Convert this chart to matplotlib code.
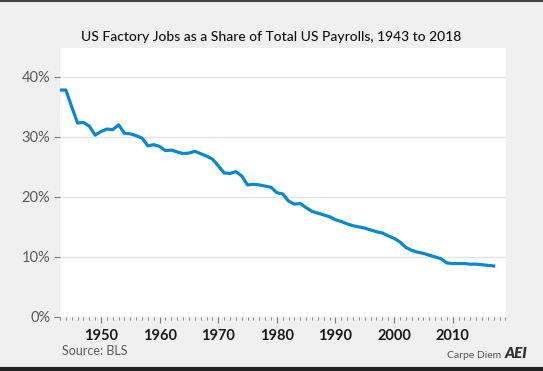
import matplotlib
matplotlib.use("Agg")
import matplotlib.pyplot as plt
import matplotlib.ticker as mticker
from matplotlib.lines import Line2D

YEARS = list(range(1943, 2018))
SHARE = [
    37.8, 37.8, 35.0, 32.3, 32.4, 31.8, 30.3, 30.9, 31.3, 31.2,
    32.0, 30.6, 30.5, 30.2, 29.8, 28.5, 28.7, 28.4, 27.7, 27.8,
    27.5, 27.2, 27.3, 27.6, 27.2, 26.8, 26.3, 25.2, 24.0, 23.9,
    24.2, 23.5, 22.0, 22.1, 22.0, 21.8, 21.6, 20.7, 20.5, 19.3,
    18.8, 18.9, 18.2, 17.6, 17.3, 17.0, 16.7, 16.2, 15.9, 15.5,
    15.2, 15.0, 14.8, 14.5, 14.2, 14.0, 13.5, 13.1, 12.5, 11.6,
    11.1, 10.8, 10.6, 10.3, 10.0, 9.7, 9.0, 8.9, 8.9, 8.9,
    8.8, 8.8, 8.7, 8.6, 8.5,
]
Y_TICKS = [0, 10, 20, 30, 40]
X_TICKS = [1950, 1960, 1970, 1980, 1990, 2000, 2010]

BG = "#f0f0f0"
LINE = "#0a88cc"
GRID = "#e4e4e4"
TICK_GREY = "#7a7a7a"
LABEL_GREY = "#5a5a5a"
INK = "#1a1a1a"

plt.rcParams["font.family"] = ["Lato", "DejaVu Sans"]

fig = plt.figure(figsize=(5.43, 3.71), dpi=100, facecolor=BG)
ax = fig.add_axes([60 / 543, 54 / 371, 446 / 543, 269 / 371])
ax.set_facecolor("white")

ax.plot(YEARS, SHARE, color=LINE, linewidth=2.3, solid_joinstyle="round", zorder=3)

ax.set_xlim(1943, 2019.1)
ax.set_ylim(0, 44.8)
ax.set_yticks(Y_TICKS)
ax.yaxis.set_major_formatter(mticker.FuncFormatter(lambda v, _: f"{int(v)}%"))
ax.set_xticks(X_TICKS)
ax.xaxis.set_minor_locator(mticker.MultipleLocator(1))
ax.grid(axis="y", color=GRID, linewidth=1, zorder=0)
ax.set_axisbelow(True)

for side in ["top", "right", "left", "bottom"]:
    ax.spines[side].set_visible(False)

ax.tick_params(axis="y", length=4, width=0.8, color=TICK_GREY, labelcolor=LABEL_GREY,
               labelsize=10.5, pad=3)
ax.tick_params(axis="x", which="major", direction="out", length=4, width=0.8,
               color=TICK_GREY, labelcolor=INK, labelsize=10.5, pad=5)
ax.tick_params(axis="x", which="minor", direction="out", length=2, width=0.6,
               color=TICK_GREY)
for lbl in ax.get_xticklabels():
    lbl.set_fontweight("bold")

fig.text(271 / 543, 1 - 37 / 371, "US Factory Jobs as a Share of Total US Payrolls, 1943 to 2018",
         ha="center", va="center", fontsize=10, fontweight="medium", color="#111111")
fig.text(62 / 543, 1 - 351 / 371, "Source: BLS", ha="left", va="center",
         fontsize=9, color=LABEL_GREY)
fig.text(501 / 543, 1 - 355 / 371, "Carpe Diem", ha="right", va="center",
         fontsize=7.5, color="#555555")
fig.text(505 / 543, 1 - 353 / 371, "AEI", ha="left", va="center", fontsize=11,
         fontweight="heavy", style="italic", color="#333333")

# dark frame strips at top and bottom of the image
fig.add_artist(Line2D([0, 1], [1 - 0.5 / 371, 1 - 0.5 / 371], transform=fig.transFigure,
                      color="#444444", linewidth=1.5))
fig.add_artist(Line2D([0, 1], [2 / 371, 2 / 371], transform=fig.transFigure,
                      color="#222222", linewidth=3))

fig.savefig("out.png", dpi=100, facecolor=BG)
